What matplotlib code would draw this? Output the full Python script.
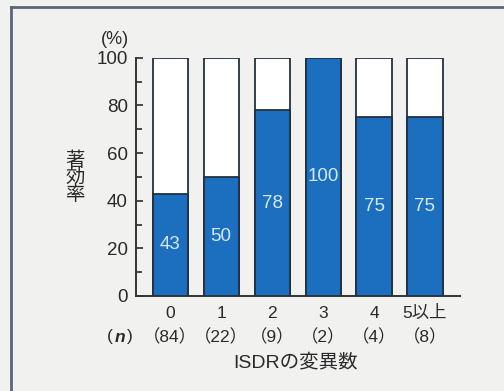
import matplotlib
matplotlib.use("Agg")
import matplotlib.pyplot as plt
from matplotlib.lines import Line2D
from matplotlib.ticker import MultipleLocator
import matplotlib.transforms as mtransforms

plt.rcParams['font.family'] = ['Liberation Sans', 'Noto Sans CJK JP', 'DejaVu Sans']

# Data
categories = ["0", "1", "2", "3", "4", "5以上"]
counts = ["（84）", "（22）", "（9）", "（2）", "（4）", "（8）"]
rates = [43, 50, 78, 100, 75, 75]

bg = '#f1f2f0'
blue = '#1c6fbe'
edge = '#22303f'
ink = '#2a2a2a'

fig = plt.figure(figsize=(5.04, 3.91), dpi=100, facecolor=bg)
ax = fig.add_axes([0.270, 0.243, 0.643, 0.609], facecolor=bg)

x = list(range(len(categories)))
width = 0.69
ax.bar(x, [100] * len(x), width=width, color='white', edgecolor=edge, linewidth=1.3, zorder=2)
ax.bar(x, rates, width=width, color=blue, edgecolor=edge, linewidth=1.3, zorder=3)

for xi, v in zip(x, rates):
    ax.text(xi, v / 2, str(v), ha='center', va='center', color='#d6e8f6',
            fontsize=13.5, zorder=4)

ax.set_xlim(-0.67, 5.69)
ax.set_ylim(0, 100)
ax.yaxis.set_major_locator(MultipleLocator(20))
ax.yaxis.set_minor_locator(MultipleLocator(10))
ax.tick_params(axis='y', which='major', direction='in', length=5, width=1.2,
               labelsize=13.5, pad=6, colors=ink)
ax.tick_params(axis='y', which='minor', direction='in', length=4, width=1.2, colors=ink)
ax.set_xticks([])
for s in ['top', 'right']:
    ax.spines[s].set_visible(False)
for s in ['left', 'bottom']:
    ax.spines[s].set_linewidth(1.4)
    ax.spines[s].set_color('#333333')

trans = mtransforms.blended_transform_factory(ax.transData, fig.transFigure)
for xi, c, n in zip(x, categories, counts):
    ax.text(xi, 1 - 313 / 391, c, transform=trans, ha='center', va='center',
            fontsize=12.5, color=ink)
    ax.text(xi, 1 - 337 / 391, n, transform=trans, ha='center', va='center',
            fontsize=12.5, color=ink)

# "(n)" row caption: parentheses upright, n italic
fig.text(110 / 504, 1 - 337 / 391, "(", ha='center', va='center', fontsize=12.5, color=ink)
fig.text(120 / 504, 1 - 337 / 391, "n", ha='center', va='center', fontsize=12.5,
         style='italic', weight='bold', color=ink)
fig.text(130 / 504, 1 - 337 / 391, ")", ha='center', va='center', fontsize=12.5, color=ink)

fig.text(296 / 504, 1 - 362 / 391, "ISDRの変異数", ha='center', va='center',
         fontsize=14, color=ink)
fig.text(115 / 504, 1 - 40 / 391, "(%)", ha='center', va='center',
         fontsize=13, color=ink)
fig.text(75 / 504, 1 - 178 / 391, "著\n効\n率", ha='center', va='center',
         fontsize=14, linespacing=0.95, color=ink)

# Outer frame lines (top and left)
fig.add_artist(Line2D([11 / 504, 11 / 504], [0, 1 - 7 / 391], transform=fig.transFigure,
                      color='#5b6578', linewidth=2))
fig.add_artist(Line2D([11 / 504, 1], [1 - 7 / 391, 1 - 7 / 391], transform=fig.transFigure,
                      color='#5b6578', linewidth=2))

fig.savefig('out.png', dpi=100, facecolor=bg)
